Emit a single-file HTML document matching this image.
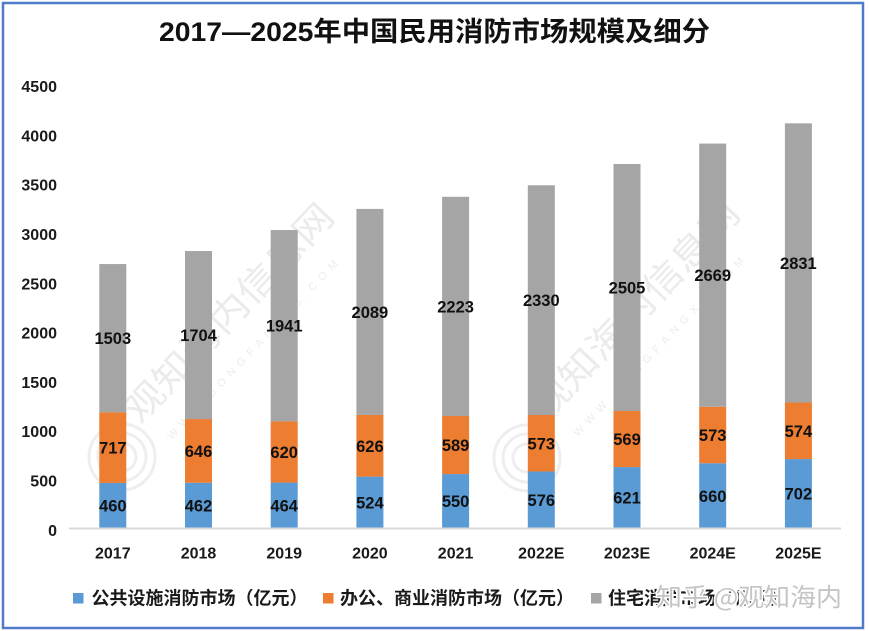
<!DOCTYPE html>
<html>
<head>
<meta charset="utf-8">
<style>
  html, body { margin:0; padding:0; background:#ffffff; }
  body { width:869px; height:631px; overflow:hidden; }
  svg { display:block; }
  .lbl { font-family:"Liberation Sans","Noto Sans CJK SC",sans-serif; font-weight:bold; font-size:16.5px; fill:#111; text-anchor:middle; }
  .tick { font-family:"Liberation Sans","Noto Sans CJK SC",sans-serif; font-weight:bold; font-size:16px; fill:#1a1a1a; text-anchor:end; }
  .cat { font-family:"Liberation Sans","Noto Sans CJK SC",sans-serif; font-weight:bold; font-size:16px; fill:#1a1a1a; text-anchor:middle; }
  .leg { font-family:"Liberation Sans","Noto Sans CJK SC",sans-serif; font-weight:bold; font-size:18px; fill:#1a1a1a; }
  .title { font-family:"Liberation Sans","Noto Sans CJK SC",sans-serif; font-weight:bold; font-size:27px; fill:#111; }
  .wm { font-family:"Noto Sans CJK SC","WenQuanYi Zen Hei",sans-serif; font-size:36px; fill:#ebebeb; }
  .wm2 { font-family:"Liberation Sans",sans-serif; font-size:11px; fill:#ececec; letter-spacing:6px; }
  .zh { font-family:"Noto Sans CJK SC","WenQuanYi Zen Hei",sans-serif; font-size:25px; fill:#c4c4c4; stroke:#ffffff; stroke-width:3px; paint-order:stroke; }
</style>
</head>
<body>
<svg width="869" height="631" viewBox="0 0 869 631" xmlns="http://www.w3.org/2000/svg">
  <rect x="0" y="0" width="869" height="631" fill="#ffffff"/>

  <!-- watermarks (behind bars) -->
  <g>
    <g fill="none" stroke="#eeeeee" stroke-width="3">
      <circle cx="122" cy="457" r="33"/>
      <circle cx="122" cy="457" r="24"/>
      <circle cx="122" cy="457" r="14"/>
      <circle cx="527" cy="458" r="33"/>
      <circle cx="527" cy="458" r="24"/>
      <circle cx="527" cy="458" r="14"/>
    </g>
    <text class="wm" transform="translate(140,425) rotate(-46.5)" textLength="285" lengthAdjust="spacingAndGlyphs">观知海内信息网</text>
    <text class="wm2" transform="translate(172,440) rotate(-46.5)">WWW.DONGFANGXB.COM</text>
    <text class="wm" transform="translate(546,422) rotate(-46.5)" textLength="285" lengthAdjust="spacingAndGlyphs">观知海内信息网</text>
    <text class="wm2" transform="translate(578,437) rotate(-46.5)">WWW.DONGFANGXB.COM</text>
  </g>

  <!-- title -->
  <text class="title" x="159" y="41" textLength="551" lengthAdjust="spacingAndGlyphs">2017—2025年中国民用消防市场规模及细分</text>

  <!-- y ticks -->
  <text class="tick" x="57" y="92">4500</text>
  <text class="tick" x="57" y="141.4">4000</text>
  <text class="tick" x="57" y="190.7">3500</text>
  <text class="tick" x="57" y="240">3000</text>
  <text class="tick" x="57" y="289.3">2500</text>
  <text class="tick" x="57" y="338.6">2000</text>
  <text class="tick" x="57" y="387.9">1500</text>
  <text class="tick" x="57" y="437.2">1000</text>
  <text class="tick" x="57" y="486.5">500</text>
  <text class="tick" x="57" y="535.8">0</text>

  <!-- bars -->
  <g>
    <rect x="99.3" y="482.94" width="27" height="45.36" fill="#5B9BD5"/>
    <rect x="99.3" y="412.24" width="27" height="70.70" fill="#ED7D31"/>
    <rect x="99.3" y="264.05" width="27" height="148.19" fill="#A5A5A5"/>

    <rect x="185" y="482.75" width="27" height="45.55" fill="#5B9BD5"/>
    <rect x="185" y="419.05" width="27" height="63.70" fill="#ED7D31"/>
    <rect x="185" y="251.04" width="27" height="168.01" fill="#A5A5A5"/>

    <rect x="270.7" y="482.55" width="27" height="45.75" fill="#5B9BD5"/>
    <rect x="270.7" y="421.42" width="27" height="61.13" fill="#ED7D31"/>
    <rect x="270.7" y="230.04" width="27" height="191.38" fill="#A5A5A5"/>

    <rect x="356.4" y="476.63" width="27" height="51.67" fill="#5B9BD5"/>
    <rect x="356.4" y="414.91" width="27" height="61.72" fill="#ED7D31"/>
    <rect x="356.4" y="208.93" width="27" height="205.98" fill="#A5A5A5"/>

    <rect x="442.1" y="474.07" width="27" height="54.23" fill="#5B9BD5"/>
    <rect x="442.1" y="415.99" width="27" height="58.08" fill="#ED7D31"/>
    <rect x="442.1" y="196.80" width="27" height="219.19" fill="#A5A5A5"/>

    <rect x="527.8" y="471.51" width="27" height="56.79" fill="#5B9BD5"/>
    <rect x="527.8" y="415.01" width="27" height="56.50" fill="#ED7D31"/>
    <rect x="527.8" y="185.27" width="27" height="229.74" fill="#A5A5A5"/>

    <rect x="613.5" y="467.07" width="27" height="61.23" fill="#5B9BD5"/>
    <rect x="613.5" y="410.97" width="27" height="56.10" fill="#ED7D31"/>
    <rect x="613.5" y="163.98" width="27" height="246.99" fill="#A5A5A5"/>

    <rect x="699.2" y="463.22" width="27" height="65.08" fill="#5B9BD5"/>
    <rect x="699.2" y="406.72" width="27" height="56.50" fill="#ED7D31"/>
    <rect x="699.2" y="143.56" width="27" height="263.16" fill="#A5A5A5"/>

    <rect x="784.9" y="459.08" width="27" height="69.22" fill="#5B9BD5"/>
    <rect x="784.9" y="402.48" width="27" height="56.60" fill="#ED7D31"/>
    <rect x="784.9" y="123.34" width="27" height="279.14" fill="#A5A5A5"/>
  </g>

  <!-- axis line -->
  <line x1="69" y1="528.5" x2="841" y2="528.5" stroke="#D9D9D9" stroke-width="2"/>

  <!-- data labels -->
  <g>
    <text class="lbl" x="112.8" y="511.6">460</text>
    <text class="lbl" x="112.8" y="453.6">717</text>
    <text class="lbl" x="112.8" y="344.1">1503</text>

    <text class="lbl" x="198.5" y="511.5">462</text>
    <text class="lbl" x="198.5" y="456.9">646</text>
    <text class="lbl" x="198.5" y="341">1704</text>

    <text class="lbl" x="284.2" y="511.4">464</text>
    <text class="lbl" x="284.2" y="458">620</text>
    <text class="lbl" x="284.2" y="331.7">1941</text>

    <text class="lbl" x="369.9" y="508.5">524</text>
    <text class="lbl" x="369.9" y="451.8">626</text>
    <text class="lbl" x="369.9" y="317.9">2089</text>

    <text class="lbl" x="455.6" y="507.2">550</text>
    <text class="lbl" x="455.6" y="451">589</text>
    <text class="lbl" x="455.6" y="312.4">2223</text>

    <text class="lbl" x="541.3" y="505.9">576</text>
    <text class="lbl" x="541.3" y="449.3">573</text>
    <text class="lbl" x="541.3" y="306.1">2330</text>

    <text class="lbl" x="627" y="503.7">621</text>
    <text class="lbl" x="627" y="445">569</text>
    <text class="lbl" x="627" y="293.5">2505</text>

    <text class="lbl" x="712.7" y="501.8">660</text>
    <text class="lbl" x="712.7" y="441">573</text>
    <text class="lbl" x="712.7" y="281.1">2669</text>

    <text class="lbl" x="798.4" y="499.7">702</text>
    <text class="lbl" x="798.4" y="436.8">574</text>
    <text class="lbl" x="798.4" y="268.9">2831</text>
  </g>

  <!-- category labels -->
  <g>
    <text class="cat" x="112.8" y="558.5">2017</text>
    <text class="cat" x="198.5" y="558.5">2018</text>
    <text class="cat" x="284.2" y="558.5">2019</text>
    <text class="cat" x="369.9" y="558.5">2020</text>
    <text class="cat" x="455.6" y="558.5">2021</text>
    <text class="cat" x="541.3" y="558.5">2022E</text>
    <text class="cat" x="627" y="558.5">2023E</text>
    <text class="cat" x="712.7" y="558.5">2024E</text>
    <text class="cat" x="798.4" y="558.5">2025E</text>
  </g>

  <!-- legend -->
  <rect x="73" y="593" width="10.5" height="10.5" fill="#5B9BD5"/>
  <text class="leg" x="91.5" y="604.5" textLength="216" lengthAdjust="spacingAndGlyphs">公共设施消防市场（亿元）</text>
  <rect x="323" y="593" width="10.5" height="10.5" fill="#ED7D31"/>
  <text class="leg" x="340" y="604.5" textLength="234" lengthAdjust="spacingAndGlyphs">办公、商业消防市场（亿元）</text>
  <rect x="591" y="593" width="10.5" height="10.5" fill="#A5A5A5"/>
  <text class="leg" x="608" y="604.5" textLength="180" lengthAdjust="spacingAndGlyphs">住宅消防市场（亿元）</text>

  <!-- bottom watermark -->
  <text class="zh" x="656" y="606" textLength="186" lengthAdjust="spacingAndGlyphs">知乎 @观知海内</text>

  <!-- frame -->
  <rect x="3" y="3" width="860" height="625" fill="none" stroke="#4F7BC8" stroke-width="2.5"/>
</svg>
</body>
</html>
